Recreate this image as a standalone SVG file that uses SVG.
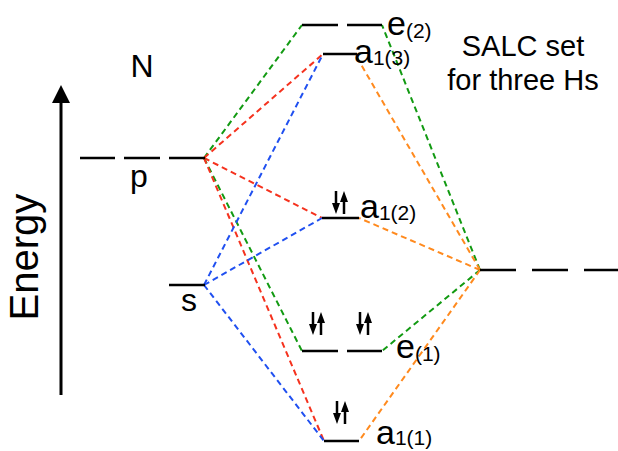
<svg xmlns="http://www.w3.org/2000/svg" width="618" height="451" viewBox="0 0 618 451">
<style>
text{font-family:"Liberation Sans",Arial,sans-serif;fill:#000}
.lvl{stroke:#000;stroke-width:2.5;fill:none}
.c{fill:none;stroke-width:2;stroke-dasharray:6 4}
.g{stroke:#129a12}.r{stroke:#f5321e}.b{stroke:#2050f0}.o{stroke:#ff8a1e}
.big{font-size:34px}.sub{font-size:21px}
</style>
<defs>
<g id="pair">
<line x1="0" y1="0" x2="0" y2="13" stroke="#000" stroke-width="2.5"/>
<polygon points="-4,12 4,12 0,23" fill="#000"/>
<line x1="8" y1="10" x2="8" y2="23" stroke="#000" stroke-width="2.5"/>
<polygon points="4,11 12,11 8,0" fill="#000"/>
</g>
</defs>
<rect width="618" height="451" fill="#fff"/>
<g id="axis">
<line x1="61" y1="100" x2="61" y2="395" stroke="#000" stroke-width="3"/>
<polygon points="52,103 70,103 61,85" fill="#000"/>
<text transform="translate(38,257) rotate(-90)" text-anchor="middle" style="font-size:40px">Energy</text>
</g>
<g id="connectors">
<line class="c g" x1="204" y1="158" x2="302" y2="25"/>
<line class="c r" x1="204" y1="158" x2="323" y2="54"/>
<line class="c r" x1="204" y1="158" x2="322" y2="218"/>
<line class="c g" x1="204" y1="158" x2="302" y2="351"/>
<line class="c r" x1="204" y1="158" x2="324" y2="441"/>
<line class="c b" x1="204" y1="285" x2="323" y2="54"/>
<line class="c b" x1="204" y1="285" x2="322" y2="218"/>
<line class="c b" x1="204" y1="285" x2="324" y2="441"/>
<line class="c g" x1="480" y1="270" x2="382" y2="25"/>
<line class="c o" x1="480" y1="270" x2="355" y2="54"/>
<line class="c o" x1="480" y1="270" x2="359" y2="218"/>
<line class="c g" x1="480" y1="270" x2="382" y2="351"/>
<line class="c o" x1="480" y1="270" x2="359" y2="441"/>
</g>
<g id="N">
<text x="142" y="77" text-anchor="middle" style="font-size:32px">N</text>
<path class="lvl" d="M80,158H115M124,158H160M169,158H205"/>
<text x="139" y="187" text-anchor="middle" style="font-size:32px">p</text>
<path class="lvl" d="M169,285H205"/>
<text x="189" y="311" text-anchor="middle" style="font-size:32px">s</text>
</g>
<g id="e2">
<path class="lvl" d="M302,25H338M347,25H382"/>
<text x="387" y="35" class="big">e<tspan class="sub" dy="3">(2)</tspan></text>
</g>
<g id="a13">
<path class="lvl" d="M323,54H357"/>
<text x="354" y="63" class="big">a<tspan class="sub" dy="2">1(3)</tspan></text>
</g>
<g id="a12">
<path class="lvl" d="M322,218H359"/>
<use href="#pair" x="336" y="191"/>
<text x="360" y="218" class="big">a<tspan class="sub" dy="2">1(2)</tspan></text>
</g>
<g id="e1">
<path class="lvl" d="M302,351H338M347,351H382"/>
<use href="#pair" x="313" y="312"/>
<use href="#pair" x="360" y="312"/>
<text x="396" y="358" class="big">e<tspan class="sub" dy="3">(1)</tspan></text>
</g>
<g id="a11">
<path class="lvl" d="M324,441H359"/>
<use href="#pair" x="337" y="401"/>
<text x="376" y="444" class="big">a<tspan class="sub" dy="1">1(1)</tspan></text>
</g>
<g id="SALC">
<text x="523" y="56" text-anchor="middle" style="font-size:29px">SALC set</text>
<text x="523" y="90" text-anchor="middle" style="font-size:29px">for three Hs</text>
<path class="lvl" d="M480,270H516M532,270H568M584,270H618"/>
</g>
</svg>
